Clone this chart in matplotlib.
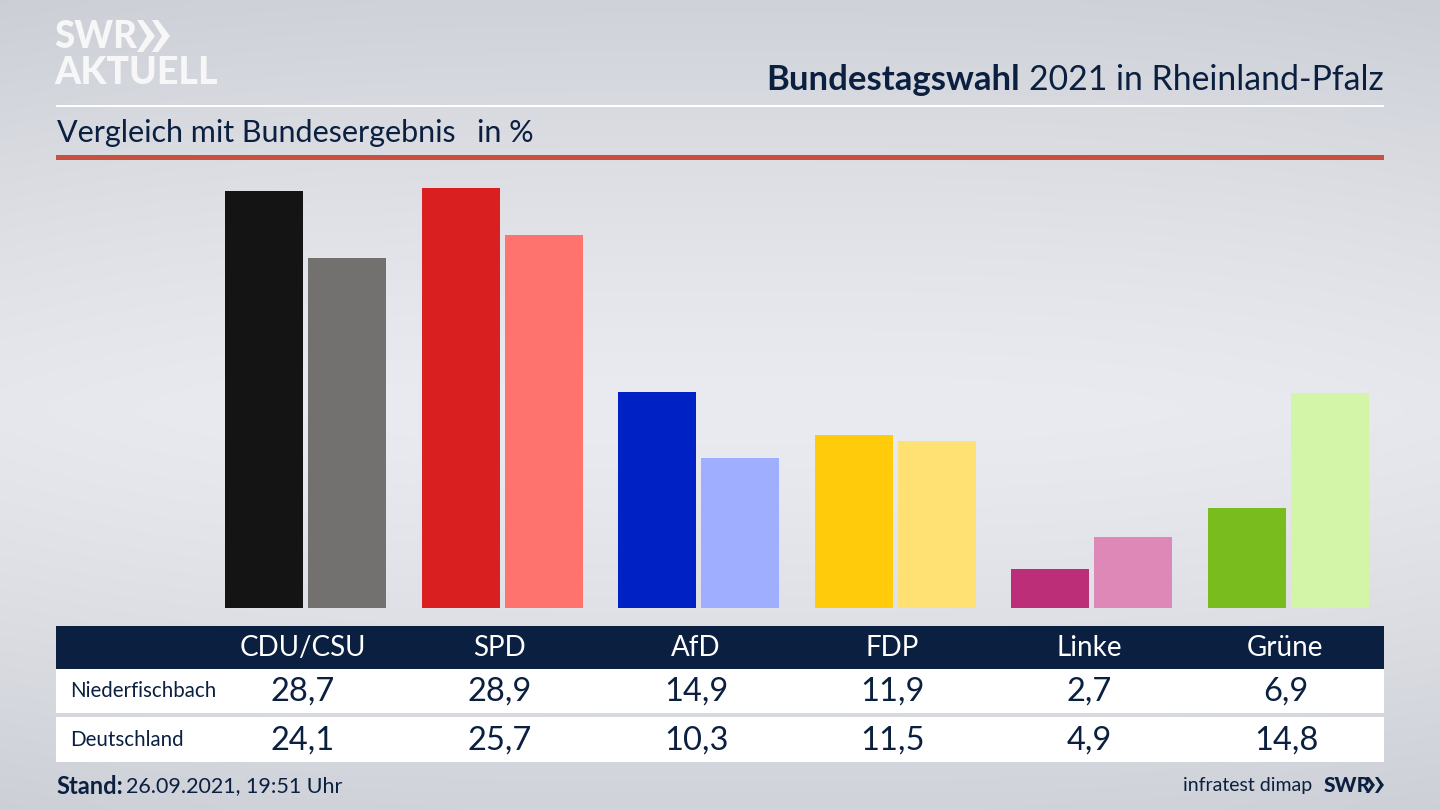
import numpy as np
import matplotlib
matplotlib.use("Agg")
import matplotlib.pyplot as plt
from matplotlib.patches import Rectangle, Polygon

parteien = ["CDU/CSU", "SPD", "AfD", "FDP", "Linke", "Grüne"]
niederfischbach = [28.7, 28.9, 14.9, 11.9, 2.7, 6.9]
deutschland = [24.1, 25.7, 10.3, 11.5, 4.9, 14.8]
labels_nf = ["28,7", "28,9", "14,9", "11,9", "2,7", "6,9"]
labels_de = ["24,1", "25,7", "10,3", "11,5", "4,9", "14,8"]
farben_nf = ["#141414", "#d91f1f", "#0021c4", "#ffcb0a", "#bd2e78", "#78bc1e"]
farben_de = ["#73716f", "#ff736e", "#a0aeff", "#ffe073", "#de88b8", "#d3f5a8"]

navy = "#0b2040"
plt.rcParams['font.family'] = ['Lato', 'DejaVu Sans']

fig = plt.figure(figsize=(14.4, 8.1), dpi=100)

# hintergrund und alles was in pixeln liegt
bg = fig.add_axes([0, 0, 1, 1])
bg.set_xlim(0, 1440)
bg.set_ylim(810, 0)
bg.axis("off")
yy, xx = np.mgrid[0:81, 0:144]
dist = np.abs(yy / 81.0 - 0.5) * 2
seite = np.abs(xx / 144.0 - 0.5) * 2
hell = 1 - 0.85 * dist ** 1.3 - 0.12 * seite ** 3
oben = np.array([203, 206, 213]) / 255.0
mitte = np.array([234, 235, 240]) / 255.0
bild = oben[None, None, :] + (mitte - oben)[None, None, :] * np.clip(hell, 0, 1)[:, :, None]
bg.imshow(bild, extent=(0, 1440, 810, 0), aspect="auto", interpolation="bicubic")

# linien oben
bg.add_patch(Rectangle((56, 104.5), 1328, 2.5, color="white", lw=0))
bg.add_patch(Rectangle((56, 155), 1328, 5, color="#c8503f", lw=0))

# logo
bg.text(54, 37, "SWR", color="#f7f7f8", fontsize=26.5, fontweight="black", va="center", ha="left")
for x0 in (137, 152):
    bg.add_patch(Polygon([(x0, 20), (x0 + 6, 20), (x0 + 18, 36), (x0 + 6, 52), (x0, 52), (x0 + 10, 36)],
                         closed=True, color="#f7f7f8", lw=0))
bg.text(54, 73.5, "AKTUELL", color="#f7f7f8", fontsize=27, fontweight="black", va="center", ha="left")

# titel
t = bg.text(1384, 79.5, "2021 in Rheinland-Pfalz", color=navy, fontsize=24.3, ha="right", va="center")
fig.canvas.draw()
ext = t.get_window_extent()
bg.text(ext.x0 - 9, 79.5, "Bundestagswahl", color=navy, fontsize=25, fontweight="bold", ha="right", va="center")
bg.text(57, 133, "Vergleich mit Bundesergebnis", color=navy, fontsize=22, ha="left", va="center")
bg.text(477, 133, "in %", color=navy, fontsize=22, ha="left", va="center")

# tabelle
bg.add_patch(Rectangle((56, 626), 1328, 42.5, color=navy, lw=0))
bg.add_patch(Rectangle((56, 668.5), 1328, 44.5, color="white", lw=0))
bg.add_patch(Rectangle((56, 717), 1328, 45, color="white", lw=0))
for i, p in enumerate(parteien):
    x = 302.5 + 196.6 * i
    bg.text(x, 647.5, p, color="white", fontsize=20, ha="center", va="center")
    bg.text(x + 0.5, 691.5, labels_nf[i], color=navy, fontsize=23.5, ha="center", va="center")
    bg.text(x + 0.5, 740.5, labels_de[i], color=navy, fontsize=23.5, ha="center", va="center")
bg.text(70, 691, "Niederfischbach", color=navy, fontsize=14.8, ha="left", va="center")
bg.text(70, 740, "Deutschland", color=navy, fontsize=14.8, ha="left", va="center")

# fuss
bg.text(56, 786, "Stand:", color=navy, fontsize=17, fontweight="bold", ha="left", va="center")
bg.text(126, 786, "26.09.2021, 19:51 Uhr", color=navy, fontsize=15.5, ha="left", va="center")
bg.text(1312, 786, "infratest dimap", color=navy, fontsize=14, ha="right", va="center")
bg.text(1324, 786, "SWR", color=navy, fontsize=15, fontweight="black", ha="left", va="center")
for x0 in (1366, 1375):
    bg.add_patch(Polygon([(x0, 777), (x0 + 3, 777), (x0 + 9, 785), (x0 + 3, 793), (x0, 793), (x0 + 5, 785)],
                         closed=True, color=navy, lw=0))

# balken
ax = fig.add_axes([56 / 1440, (810 - 608) / 810, 1328 / 1440, 448 / 810])
ax.patch.set_alpha(0)
ax.axis("off")
ax.set_xlim(-1.269, 5.486)
ax.set_ylim(0, 448 / 14.52)
pos = np.arange(len(parteien))
ax.bar(pos - 0.211, niederfischbach, width=0.397, color=farben_nf)
ax.bar(pos + 0.211, deutschland, width=0.397, color=farben_de)

fig.savefig("out.png", dpi=100)
